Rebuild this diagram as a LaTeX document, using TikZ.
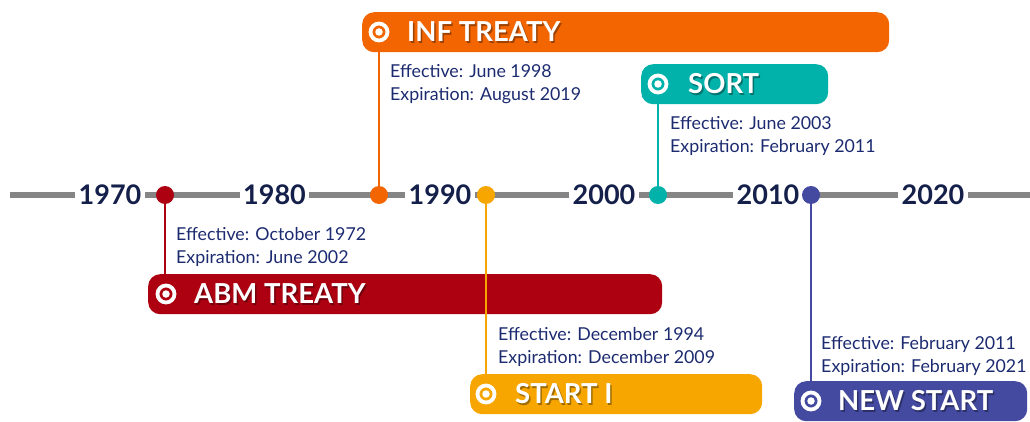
\documentclass[tikz,border=0pt]{standalone}
\usepackage{fontspec}
\setmainfont{Lato}
\definecolor{abmred}{HTML}{AD0011}
\definecolor{inforange}{HTML}{F26500}
\definecolor{sortteal}{HTML}{00B2A9}
\definecolor{startyel}{HTML}{F7A600}
\definecolor{newblue}{HTML}{434A9F}
\definecolor{yearnavy}{HTML}{15204A}
\definecolor{descnavy}{HTML}{1C2B70}
\definecolor{tlgray}{HTML}{858585}
\begin{document}
\begin{tikzpicture}[x=1pt,y=-1pt,
  bar/.style={rounded corners=12pt, minimum height=40pt, anchor=north west, inner sep=0pt, draw=none},
  titletext/.style={text=white, font=\fontsize{27.5}{30}\selectfont\bfseries, anchor=west, inner sep=0pt},
  titleshadow/.style={text=black, text opacity=0.35, font=\fontsize{27.5}{30}\selectfont\bfseries, anchor=west, inner sep=0pt},
  desc/.style={text=descnavy, font=\fontsize{17.8}{22.5}\selectfont, align=left, anchor=north west, inner sep=0pt},
  year/.style={text=yearnavy, font=\fontsize{27}{30}\selectfont\bfseries, fill=white, inner xsep=3.5pt, inner ysep=2pt},
  dot/.style={circle, minimum size=18pt, inner sep=0pt},
  vline/.style={line width=2.8pt},
  ring/.style={circle, draw=white, line width=3.8pt, minimum size=17pt, inner sep=0pt},
  ringdot/.style={circle, fill=white, minimum size=7.5pt, inner sep=0pt}]
\useasboundingbox (0,0) rectangle (1030,422);

% timeline axis
\coordinate (tlstart) at (10,195);
\coordinate (tlend) at (1030,195);
\draw[tlgray, line width=6.5pt] (tlstart) -- (tlend);

% years
\node[year] (y1970) at (110,195) {1970};
\node[year] (y1980) at (274.5,195) {1980};
\node[year] (y1990) at (440,195) {1990};
\node[year] (y2000) at (604,195) {2000};
\node[year] (y2010) at (768,195) {2010};
\node[year] (y2020) at (933,195) {2020};

% bars
\node[bar, fill=inforange, minimum width=527pt] (inf) at (362,12) {};
\node[bar, fill=sortteal, minimum width=187pt] (sort) at (641,64) {};
\node[bar, fill=abmred, minimum width=514pt] (abm) at (148,274) {};
\node[bar, fill=startyel, minimum width=292pt] (start) at (470,374) {};
\node[bar, fill=newblue, minimum width=233pt] (newstart) at (794,381) {};

% dots
\node[dot, fill=abmred] (dabm) at (165,195) {};
\node[dot, fill=inforange] (dinf) at (379,195) {};
\node[dot, fill=startyel] (dstart) at (486,195) {};
\node[dot, fill=sortteal] (dsort) at (658,195) {};
\node[dot, fill=newblue] (dnew) at (811,195) {};

% connectors
\draw[vline, abmred] (dabm) -- (dabm |- abm.north);
\draw[vline, inforange] (dinf) -- (dinf |- inf.south);
\draw[vline, startyel] (dstart) -- (dstart |- start.north);
\draw[vline, sortteal] (dsort) -- (dsort |- sort.south);
\draw[vline, newblue] (dnew) -- (dnew |- newstart.north);

% icons
\node[ring] (iinf) at (379,32) {};
\node[ringdot] (iinfd) at (iinf) {};
\node[ring] (isort) at (658,84) {};
\node[ringdot] (isortd) at (isort) {};
\node[ring] (iabm) at (166,294) {};
\node[ringdot] (iabmd) at (iabm) {};
\node[ring] (istart) at (486,394) {};
\node[ringdot] (istartd) at (istart) {};
\node[ring] (inew) at (811,401) {};
\node[ringdot] (inewd) at (inew) {};

% titles
\node[titleshadow] (tinfs) at (408.5,33.5) {INF TREATY};
\node[titletext] (tinf) at (407,32) {INF TREATY};
\node[titleshadow] (tsorts) at (689.5,85.5) {SORT};
\node[titletext] (tsort) at (688,84) {SORT};
\node[titleshadow] (tabms) at (195.5,295.5) {ABM TREATY};
\node[titletext] (tabm) at (194,294) {ABM TREATY};
\node[titleshadow] (tstarts) at (516.5,395.5) {START I};
\node[titletext] (tstart) at (515,394) {START I};
\node[titleshadow] (tnews) at (839.5,402.5) {NEW START};
\node[titletext] (tnew) at (838,401) {NEW START};

% descriptions
\node[desc] (dinfx) at (390,64.5) {Effective: June 1998\\Expiration: August 2019};
\node[desc] (dsortx) at (670,116.5) {Effective: June 2003\\Expiration: February 2011};
\node[desc] (dabmx) at (176,227.5) {Effective: October 1972\\Expiration: June 2002};
\node[desc] (dstartx) at (498,327.5) {Effective: December 1994\\Expiration: December 2009};
\node[desc] (dnewx) at (821,336.5) {Effective: February 2011\\Expiration: February 2021};
\end{tikzpicture}
\end{document}
